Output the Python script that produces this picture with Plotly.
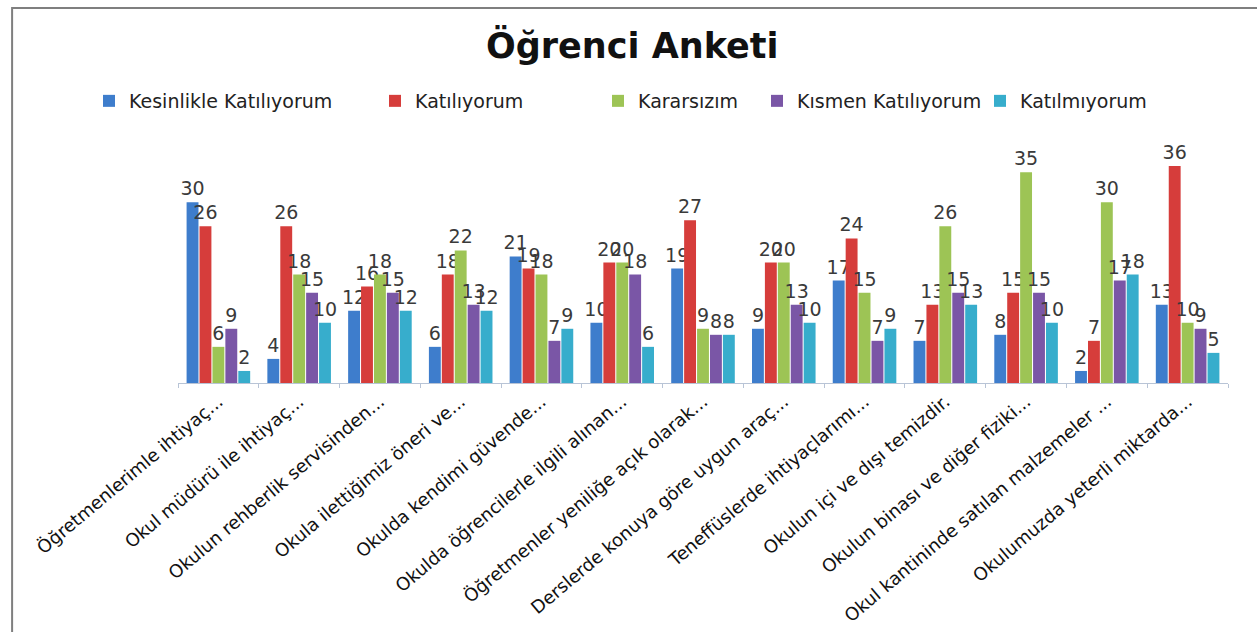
import plotly.graph_objects as go

categories = [
    "Öğretmenlerimle ihtiyaç...",
    "Okul müdürü ile ihtiyaç...",
    "Okulun rehberlik servisinden...",
    "Okula ilettiğimiz öneri ve...",
    "Okulda kendimi güvende...",
    "Okulda öğrencilerle ilgili alınan...",
    "Öğretmenler yeniliğe açık olarak...",
    "Derslerde konuya göre uygun araç...",
    "Teneffüslerde ihtiyaçlarımı...",
    "Okulun içi ve dışı temizdir.",
    "Okulun binası ve diğer fiziki...",
    "Okul kantininde satılan malzemeler ...",
    "Okulumuzda yeterli miktarda...",
]

series_names = ["Kesinlikle Katılıyorum", "Katılıyorum", "Kararsızım",
                "Kısmen Katılıyorum", "Katılmıyorum"]

kesinlikle = [30, 4, 12, 6, 21, 10, 19, 9, 17, 7, 8, 2, 13]
katiliyorum = [26, 26, 16, 18, 19, 20, 27, 20, 24, 13, 15, 7, 36]
kararsizim = [6, 18, 18, 22, 18, 20, 9, 20, 15, 26, 35, 30, 10]
kismen = [9, 15, 15, 13, 7, 18, 8, 13, 7, 15, 15, 17, 9]
katilmiyorum = [2, 10, 12, 12, 9, 6, 8, 10, 9, 13, 10, 18, 5]

series_values = [kesinlikle, katiliyorum, kararsizim, kismen, katilmiyorum]
colors = ["#3E7DCC", "#D63D3B", "#9DC455", "#7A56A6", "#37ADCC"]

# legend left edges in container pixels
legend_px = [89, 375, 598, 757, 980]

W, H = 1257, 632
FONT = "DejaVu Sans"

fig = go.Figure()
for i, (name, vals, col) in enumerate(zip(series_names, series_values, colors)):
    lg = "legend" if i == 0 else f"legend{i+1}"
    fig.add_trace(go.Bar(
        name=name, x=categories, y=vals,
        marker=dict(color=col, line=dict(width=0)),
        texttemplate="%{y}", textposition="outside",
        textfont=dict(family=FONT, size=19, color="#3a3a3a"),
        constraintext="none", cliponaxis=False,
        legend=lg, showlegend=True,
    ))

layout_legends = {}
for i, px in enumerate(legend_px):
    key = "legend" if i == 0 else f"legend{i+1}"
    layout_legends[key] = dict(
        x=px / W, y=1 - 101 / H, xref="container", yref="container",
        xanchor="left", yanchor="middle",
        orientation="h", bgcolor="rgba(0,0,0,0)",
        font=dict(family=FONT, size=19, color="#222222"),
        itemwidth=30,
    )

fig.update_layout(
    width=W, height=H,
    margin=dict(l=178, r=29, t=142, b=249, autoexpand=False),
    paper_bgcolor="white", plot_bgcolor="white",
    showlegend=True,
    barmode="group", bargap=0.2, bargroupgap=0.08,
    title=dict(text="<b>Öğrenci Anketi</b>", x=0.503, xanchor="center",
               y=1 - 46 / H, yanchor="middle",
               font=dict(family=FONT, size=35, color="#111111")),
    xaxis=dict(
        tickangle=-40, showline=True, linecolor="#b8c4d6", linewidth=1,
        ticks="outside", tickson="boundaries", ticklen=4, tickcolor="#b8c4d6",
        tickfont=dict(family=FONT, size=18, color="#111111"),
        showgrid=False, automargin=False,
    ),
    yaxis=dict(range=[0, 40], visible=False, showgrid=False, automargin=False),
    shapes=[dict(type="rect", xref="paper", yref="paper",
                 x0=-0.158, x1=1.2, y0=-1.3, y1=1.556,
                 line=dict(color="#7f7f7f", width=2), layer="below")],
    **layout_legends,
)

fig.write_html("out.html",
               config={"displayModeBar": False},
               post_script="document.body.style.margin='0px';")
